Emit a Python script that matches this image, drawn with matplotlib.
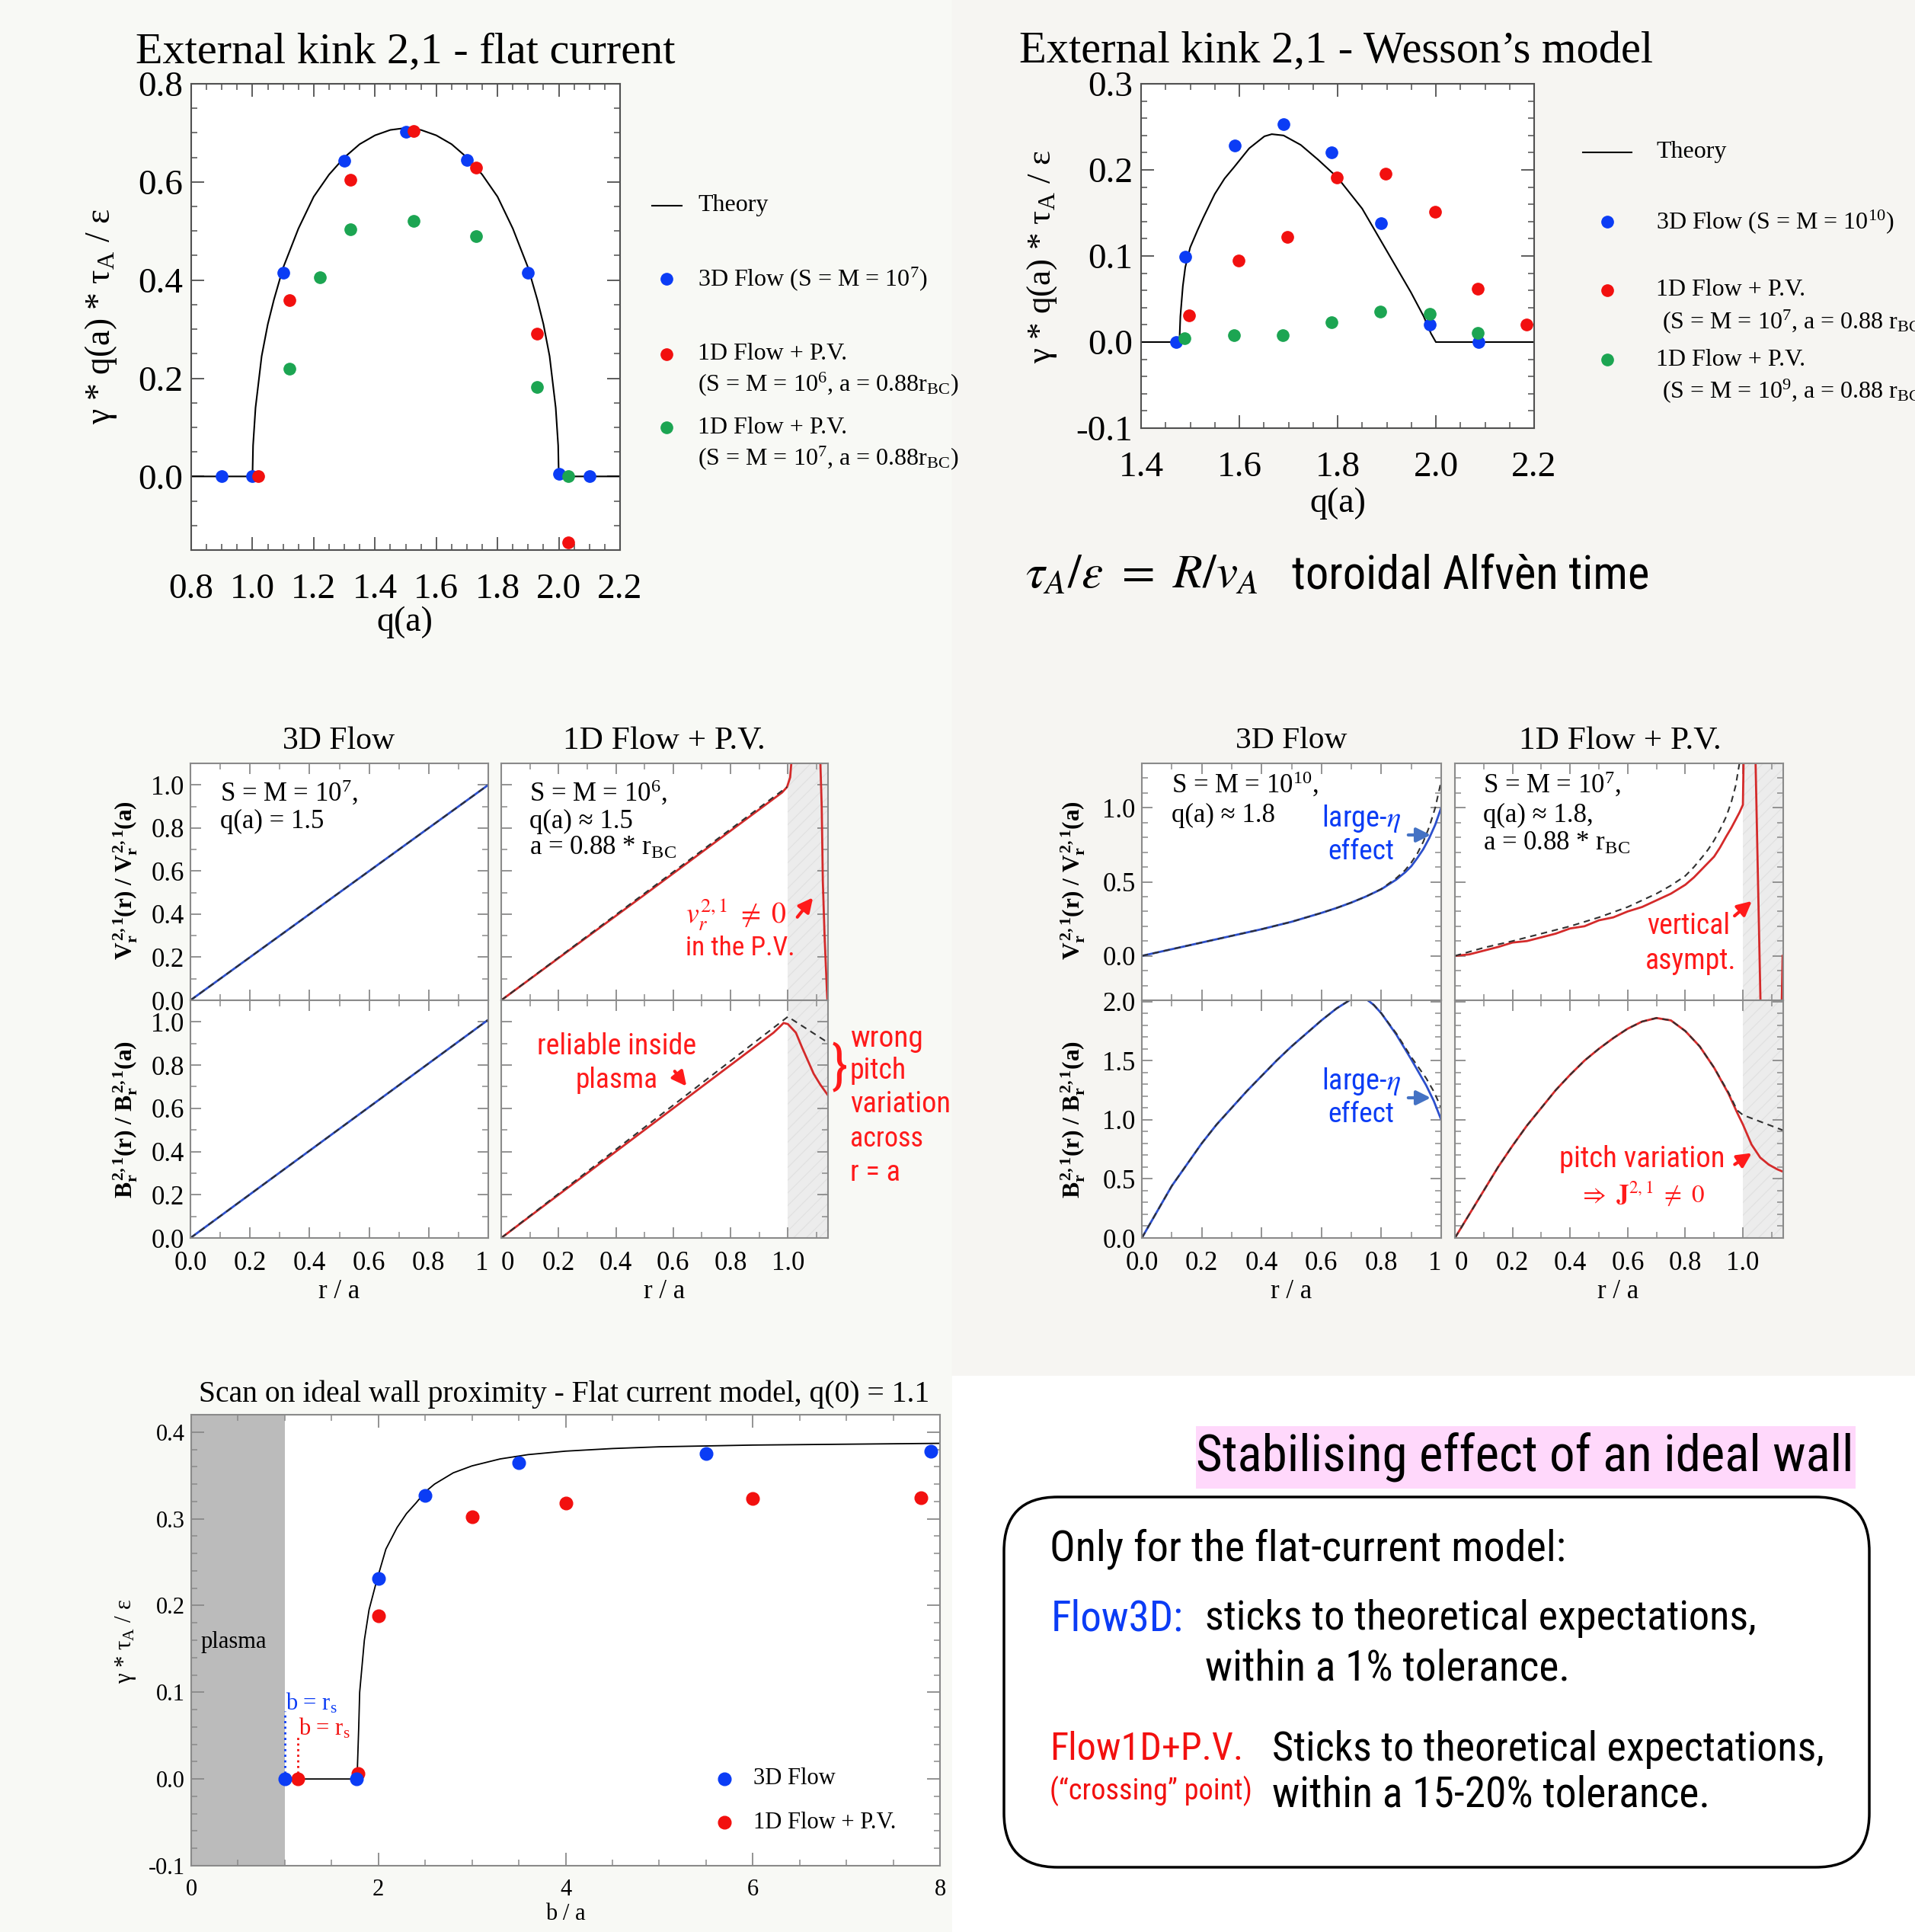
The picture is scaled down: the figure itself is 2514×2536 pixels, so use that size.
import matplotlib
matplotlib.use('Agg')
import matplotlib.pyplot as plt
from matplotlib import font_manager
from matplotlib.lines import Line2D
from matplotlib.patches import Rectangle, FancyBboxPatch, FancyArrowPatch
from matplotlib.ticker import MultipleLocator, FormatStrFormatter

# ---------------- data ----------------
# external kink 2,1 - flat current
q_flat_theory = [0.8, 1.0, 1.0, 1.002, 1.01, 1.03, 1.05, 1.07, 1.1, 1.15, 1.2, 1.25, 1.3, 1.35, 1.4, 1.45, 1.5,
                 1.55, 1.6, 1.65, 1.7, 1.75, 1.8, 1.85, 1.9, 1.93, 1.95, 1.97, 1.99, 1.998, 2.0, 2.2]
g_flat_theory = [0.0, 0.0, 0.0, 0.063, 0.14, 0.245, 0.31, 0.36, 0.425, 0.505, 0.57, 0.615, 0.65, 0.677, 0.695, 0.706, 0.71,
                 0.706, 0.695, 0.677, 0.65, 0.615, 0.57, 0.505, 0.425, 0.36, 0.31, 0.245, 0.14, 0.063, 0.0, 0.0]
q_flat_3d = [0.9, 1.0, 1.1, 1.3, 1.5, 1.7, 1.9, 2.0, 2.1]
g_flat_3d = [0.0, 0.0, 0.415, 0.643, 0.702, 0.644, 0.415, 0.005, 0.0]
q_flat_1d6 = [1.02, 1.12, 1.32, 1.525, 1.73, 1.93, 2.03]
g_flat_1d6 = [0.0, 0.359, 0.605, 0.704, 0.63, 0.291, -0.135]
q_flat_1d7 = [1.12, 1.22, 1.32, 1.525, 1.73, 1.93, 2.03]
g_flat_1d7 = [0.22, 0.406, 0.504, 0.52, 0.49, 0.182, 0.0]

# external kink 2,1 - Wesson's model
q_wes_theory = [1.4, 1.478, 1.48, 1.485, 1.49, 1.50, 1.515, 1.527, 1.55, 1.57, 1.589, 1.62, 1.651, 1.666, 1.69,
                1.725, 1.76, 1.80, 1.85, 1.90, 1.949, 1.975, 1.99, 2.0, 2.2]
g_wes_theory = [0.0, 0.0, 0.03, 0.065, 0.087, 0.11, 0.13, 0.145, 0.172, 0.19, 0.203, 0.225, 0.239, 0.2415, 0.240,
                0.229, 0.212, 0.191, 0.155, 0.106, 0.058, 0.03, 0.01, 0.0, 0.0]
q_wes_3d = [1.471, 1.49, 1.59, 1.69, 1.788, 1.888, 1.988, 2.087]
g_wes_3d = [0.0, 0.099, 0.228, 0.253, 0.220, 0.138, 0.020, 0.0]
q_wes_1d7 = [1.498, 1.599, 1.698, 1.799, 1.898, 1.999, 2.086, 2.185]
g_wes_1d7 = [0.031, 0.095, 0.122, 0.191, 0.196, 0.151, 0.062, 0.020]
q_wes_1d9 = [1.489, 1.589, 1.688, 1.788, 1.887, 1.987, 2.086]
g_wes_1d9 = [0.004, 0.008, 0.008, 0.023, 0.035, 0.033, 0.011]

# eigenfunctions, flat current
r_flat_3d = [0.0, 1.0]
v_flat_3d = [0.0, 1.0]
b_flat_3d = [0.0, 1.01]
r_flat_th = [0.0, 1.0]
v_flat_th = [0.0, 1.0]
b_flat_th = [0.0, 1.01]
r_flat_v1d = [0.0, 0.5, 0.98, 0.997, 1.008, 1.018, 1.11, 1.113, 1.118, 1.122, 1.128, 1.136, 1.138]
v_flat_v1d = [0.0, 0.49, 0.965, 0.99, 1.035, 1.2, 1.2, 1.12, 0.9, 0.55, 0.3, 0.05, 0.0]
r_flat_v1d_th = [0.0, 0.997]
v_flat_v1d_th = [0.0, 0.99]
r_flat_b1d = [0.0, 0.5, 0.95, 0.97, 0.985, 1.0, 1.028, 1.05, 1.07, 1.09, 1.113, 1.14]
b_flat_b1d = [0.0, 0.5, 0.95, 0.975, 0.995, 0.99, 0.95, 0.88, 0.82, 0.76, 0.71, 0.66]
r_flat_b1d_th = [0.0, 1.0, 1.14]
b_flat_b1d_th = [0.0, 1.024, 0.904]

# eigenfunctions, Wesson's model
r_wes_v3d = [0.0, 0.1, 0.2, 0.3, 0.4, 0.5, 0.6, 0.65, 0.7, 0.75, 0.8, 0.85, 0.88, 0.9, 0.92, 0.94, 0.96,
             0.98, 1.0]
v_wes_v3d = [0.0, 0.045, 0.09, 0.135, 0.18, 0.23, 0.29, 0.323, 0.36, 0.402, 0.45, 0.515, 0.565, 0.605, 0.66,
             0.72, 0.795, 0.885, 1.0]
r_wes_v3d_th = [0.0, 0.1, 0.2, 0.3, 0.4, 0.5, 0.6, 0.65, 0.7, 0.75, 0.8, 0.85, 0.88, 0.9, 0.92, 0.94, 0.96,
                0.98, 1.0]
v_wes_v3d_th = [0.0, 0.045, 0.09, 0.135, 0.18, 0.23, 0.29, 0.323, 0.36, 0.402, 0.452, 0.525, 0.58, 0.63, 0.69,
                0.77, 0.87, 1.0, 1.18]
r_wes_v1d = [0.0, 0.05, 0.1, 0.15, 0.2, 0.25, 0.3, 0.35, 0.4, 0.45, 0.5, 0.55, 0.6, 0.65, 0.7, 0.75,
             0.8, 0.83, 0.86, 0.9, 0.92, 0.942, 0.96, 0.975, 0.988, 1.0, 1.003, 1.043, 1.062, 1.134, 1.138]
v_wes_v1d = [0.0, 0.01, 0.035, 0.06, 0.09, 0.10, 0.125, 0.15, 0.185, 0.20, 0.24, 0.26, 0.30, 0.33, 0.375, 0.42,
             0.48, 0.53, 0.59, 0.67, 0.73, 0.806, 0.865, 0.92, 0.968, 1.02, 1.4, 1.4, -0.4, -0.4, 0.0]
r_wes_v1d_th = [0.0, 0.1, 0.2, 0.3, 0.4, 0.5, 0.6, 0.7, 0.75, 0.8, 0.83, 0.86, 0.88, 0.9, 0.92, 0.942, 0.96,
                0.975, 0.988]
v_wes_v1d_th = [0.0, 0.055, 0.1, 0.15, 0.2, 0.26, 0.33, 0.42, 0.475, 0.54, 0.6, 0.67, 0.72, 0.78, 0.85, 0.94,
                1.04, 1.15, 1.3]
r_wes_b3d = [0.0, 0.05, 0.1, 0.15, 0.2, 0.25, 0.3, 0.35, 0.4, 0.45, 0.5, 0.55, 0.6, 0.65, 0.7, 0.725, 0.75,
             0.775, 0.8, 0.85, 0.9, 0.95, 0.975, 1.0]
b_wes_b3d = [0.0, 0.22, 0.44, 0.62, 0.80, 0.96, 1.10, 1.24, 1.37, 1.50, 1.62, 1.73, 1.84, 1.94, 2.02, 2.04, 2.02,
             1.97, 1.90, 1.72, 1.51, 1.29, 1.16, 1.0]
r_wes_b3d_th = [0.0, 0.05, 0.1, 0.15, 0.2, 0.25, 0.3, 0.35, 0.4, 0.45, 0.5, 0.55, 0.6, 0.65, 0.7, 0.725, 0.75,
                0.775, 0.8, 0.85, 0.9, 0.95, 0.975, 1.0]
b_wes_b3d_th = [0.0, 0.22, 0.44, 0.62, 0.80, 0.96, 1.10, 1.24, 1.37, 1.50, 1.62, 1.73, 1.84, 1.94, 2.02, 2.04, 2.02,
                1.97, 1.90, 1.73, 1.53, 1.35, 1.24, 1.10]
r_wes_b1d = [0.0, 0.05, 0.1, 0.15, 0.2, 0.25, 0.3, 0.35, 0.4, 0.45, 0.5, 0.55, 0.6, 0.65, 0.7, 0.75, 0.8, 0.85,
             0.9, 0.95, 0.98, 1.0, 1.03, 1.06, 1.09, 1.12, 1.14]
b_wes_b1d = [0.0, 0.20, 0.40, 0.60, 0.78, 0.95, 1.10, 1.25, 1.38, 1.50, 1.60, 1.69, 1.77, 1.83, 1.86, 1.84, 1.75,
             1.62, 1.44, 1.22, 1.06, 0.96, 0.79, 0.68, 0.62, 0.58, 0.56]
r_wes_b1d_th = [0.0, 0.05, 0.1, 0.15, 0.2, 0.25, 0.3, 0.35, 0.4, 0.45, 0.5, 0.55, 0.6, 0.65, 0.7, 0.75, 0.8, 0.85,
                0.9, 0.95, 0.98, 1.0, 1.14]
b_wes_b1d_th = [0.0, 0.20, 0.40, 0.60, 0.78, 0.95, 1.10, 1.25, 1.38, 1.50, 1.60, 1.69, 1.77, 1.83, 1.86, 1.84, 1.75,
                1.62, 1.44, 1.23, 1.08, 1.04, 0.91]

# ideal wall scan
b_wall_theory = [1.0, 1.772, 1.775, 1.79, 1.80, 1.85, 1.90, 1.98, 2.08, 2.2, 2.3, 2.4, 2.5, 2.6, 2.8, 3.0,
                 3.3, 3.6, 4.0, 4.5, 5.0, 6.0, 7.0, 8.0]
g_wall_theory = [0.0, 0.0, 0.01, 0.06, 0.10, 0.16, 0.195, 0.228, 0.265, 0.29, 0.306, 0.318, 0.331, 0.34, 0.353,
                 0.361, 0.369, 0.374, 0.378, 0.381, 0.383, 0.385, 0.386, 0.387]
b_wall_3d = [1.0, 1.77, 2.0, 2.5, 3.5, 5.5, 7.9]
g_wall_3d = [0.0, 0.0, 0.231, 0.327, 0.365, 0.375, 0.378]
b_wall_1d = [1.14, 1.78, 2.0, 3.0, 4.0, 6.0, 7.8]
g_wall_1d = [0.0, 0.006, 0.188, 0.302, 0.318, 0.3235, 0.324]

# ---------------- style ----------------
BLUE = '#0b3cf5'
RED = '#f2100f'
GREEN = '#1ca552'
LBLUE = '#2c4fcc'
LRED = '#d42a2a'
ARED = '#ff1a1a'


def pick(names):
    for n in names:
        try:
            font_manager.findfont(font_manager.FontProperties(family=n), fallback_to_default=False)
            return n
        except Exception:
            pass
    return 'DejaVu Sans'


SERIF = pick(['Liberation Serif', 'DejaVu Serif'])
SANS = pick(['Liberation Sans Narrow', 'Roboto Condensed', 'Open Sans Condensed', 'Lato', 'Open Sans'])

plt.rcParams['font.family'] = [SERIF, 'DejaVu Serif']
plt.rcParams['mathtext.fontset'] = 'custom'
plt.rcParams['mathtext.rm'] = SERIF
plt.rcParams['mathtext.it'] = SERIF + ':italic'
plt.rcParams['mathtext.bf'] = SERIF + ':bold'
plt.rcParams['axes.unicode_minus'] = False
plt.rcParams['hatch.linewidth'] = 0.8

W, H = 2514, 2536
fig = plt.figure(figsize=(W / 100, H / 100), dpi=100, facecolor='#f8f9f5')
renderer = fig.canvas.get_renderer()


def box(l, t, r, b):
    return [l / W, 1 - b / H, (r - l) / W, (b - t) / H]


def txt(x, y, s, width=None, height=None, **kw):
    kw.setdefault('va', 'center')
    t = fig.text(x / W, 1 - y / H, s, **kw)
    if width or height:
        ext = t.get_window_extent(renderer)
        f = width / ext.width if width else height / ext.height
        t.set_fontsize(t.get_fontsize() * f)
    return t


def key_marker(x, y, color, ms=11):
    fig.add_artist(Line2D([x / W], [1 - y / H], marker='o', ms=ms, color=color, ls='none',
                          transform=fig.transFigure))


def key_line(x0, x1, y):
    fig.add_artist(Line2D([x0 / W, x1 / W], [1 - y / H, 1 - y / H], color='black', lw=1.5,
                          transform=fig.transFigure))


def arrow(x0, y0, x1, y1, color):
    fig.add_artist(FancyArrowPatch((x0 / W, 1 - y0 / H), (x1 / W, 1 - y1 / H), transform=fig.transFigure,
                                   arrowstyle='-|>', mutation_scale=28, color=color, lw=3))


def style(ax, fs, spine='#505050', xpad=8, ypad=8, maj=12, mnr=6):
    ax.tick_params(which='both', direction='in', top=True, right=True, color=spine, labelsize=fs)
    ax.tick_params(which='major', length=maj, width=1.3)
    ax.tick_params(which='minor', length=mnr, width=1.1)
    ax.tick_params(axis='x', which='both', pad=xpad)
    ax.tick_params(axis='y', which='both', pad=ypad)
    for sp in ax.spines.values():
        sp.set_color(spine)
        sp.set_linewidth(1.5)


# background regions of the slide
fig.add_artist(Rectangle((1250 / W, 1 - 1806 / H), (W - 1250) / W, 1806 / H, transform=fig.transFigure,
                         color='#f6f5f2', zorder=-10))
fig.add_artist(Rectangle((1250 / W, 0), (W - 1250) / W, (H - 1806) / H, transform=fig.transFigure,
                         color='white', zorder=-10))

# ---------------- top-left: flat current ----------------
ax = fig.add_axes(box(251, 110, 814, 722))
ax.plot(q_flat_theory, g_flat_theory, color='black', lw=1.5)
ax.plot(q_flat_3d, g_flat_3d, 'o', color=BLUE, ms=11)
ax.plot(q_flat_1d6, g_flat_1d6, 'o', color=RED, ms=11)
ax.plot(q_flat_1d7, g_flat_1d7, 'o', color=GREEN, ms=11)
ax.set_xlim(0.8, 2.2)
ax.set_ylim(-0.15, 0.8)
ax.xaxis.set_major_locator(MultipleLocator(0.2))
ax.xaxis.set_minor_locator(MultipleLocator(0.05))
ax.yaxis.set_major_locator(MultipleLocator(0.2))
ax.yaxis.set_minor_locator(MultipleLocator(0.05))
ax.xaxis.set_major_formatter(FormatStrFormatter('%.1f'))
ax.yaxis.set_major_formatter(FormatStrFormatter('%.1f'))
style(ax, 34, xpad=22, ypad=8)

txt(178, 68, 'External kink 2,1 - flat current', width=709, fontsize=42)
txt(133, 415, 'γ * q(a) * τ$_\\mathrm{A}$ / ε', height=283, fontsize=31, rotation=90, ha='center')
txt(531, 817, 'q(a)', fontsize=33, ha='center')
key_line(856, 895, 270)
txt(916, 270, 'Theory', fontsize=23)
key_marker(875, 366, BLUE)
txt(916, 366, '3D Flow (S = M = 10$^{7}$)', fontsize=23)
key_marker(875, 465, RED)
txt(916, 465, '1D Flow + P.V.', fontsize=23)
txt(916, 504, '(S = M = 10$^{6}$, a = 0.88r$_{\\mathrm{BC}}$)', fontsize=23)
key_marker(875, 561, GREEN)
txt(916, 561, '1D Flow + P.V.', fontsize=23)
txt(916, 601, '(S = M = 10$^{7}$, a = 0.88r$_{\\mathrm{BC}}$)', fontsize=23)

# ---------------- top-right: Wesson's model ----------------
ax = fig.add_axes(box(1498, 110, 2014, 562))
ax.plot(q_wes_theory, g_wes_theory, color='black', lw=1.5)
ax.plot(q_wes_3d, g_wes_3d, 'o', color=BLUE, ms=11)
ax.plot(q_wes_1d7, g_wes_1d7, 'o', color=RED, ms=11)
ax.plot(q_wes_1d9, g_wes_1d9, 'o', color=GREEN, ms=11)
ax.set_xlim(1.4, 2.2)
ax.set_ylim(-0.1, 0.3)
ax.xaxis.set_major_locator(MultipleLocator(0.2))
ax.xaxis.set_minor_locator(MultipleLocator(0.05))
ax.yaxis.set_major_locator(MultipleLocator(0.1))
ax.yaxis.set_minor_locator(MultipleLocator(0.02))
ax.xaxis.set_major_formatter(FormatStrFormatter('%.1f'))
ax.yaxis.set_major_formatter(FormatStrFormatter('%.1f'))
style(ax, 34, xpad=22, ypad=8)

txt(1338, 68, 'External kink 2,1 - Wesson’s model', width=834, fontsize=42)
txt(1368, 337, 'γ * q(a) * τ$_\\mathrm{A}$ / ε', height=280, fontsize=31, rotation=90, ha='center')
txt(1756, 661, 'q(a)', fontsize=33, ha='center')
key_line(2078, 2142, 200)
txt(2174, 200, 'Theory', fontsize=23)
key_marker(2110, 291, BLUE)
txt(2174, 291, '3D Flow (S = M = 10$^{10}$)', fontsize=23)
key_marker(2110, 381, RED)
txt(2174, 381, '1D Flow + P.V.', fontsize=23)
txt(2182, 422, '(S = M = 10$^{7}$, a = 0.88 r$_{\\mathrm{BC}}$)', fontsize=23)
key_marker(2110, 472, GREEN)
txt(2174, 472, '1D Flow + P.V.', fontsize=23)
txt(2182, 513, '(S = M = 10$^{9}$, a = 0.88 r$_{\\mathrm{BC}}$)', fontsize=23)

txt(1346, 757, r'$\tau_A/\varepsilon\ =\ R/v_A$', width=306, fontsize=36, math_fontfamily='stix')
txt(1696, 757, 'toroidal Alfvèn time', width=470, fontsize=36, family=SANS)


# ---------------- eigenfunction panels ----------------
def panel(l, t, r, b, xmax, ylim, yticks, ylabels, xlabels):
    ax = fig.add_axes(box(l, t, r, b))
    ax.set_facecolor('white')
    ax.set_xlim(0, xmax)
    ax.set_ylim(*ylim)
    if xmax > 1.0:
        ax.axvspan(1.0, xmax, facecolor='#ececec', edgecolor='#e0e0e0', hatch='//', lw=0, zorder=0)
    ax.set_xticks([0, 0.2, 0.4, 0.6, 0.8, 1.0])
    ax.set_xticklabels(xlabels if xlabels else [''] * 6)
    ax.set_yticks(yticks)
    ax.set_yticklabels(ylabels if ylabels else [''] * len(yticks))
    ax.xaxis.set_minor_locator(MultipleLocator(0.1))
    ax.yaxis.set_minor_locator(MultipleLocator(0.1))
    style(ax, 25, spine='#8a8a8a', xpad=12, ypad=6, maj=10, mnr=6)
    if xlabels:
        labs = ax.get_xticklabels()
        if xmax > 1.0:
            labs[0].set_horizontalalignment('left')
        else:
            labs[-1].set_horizontalalignment('right')
    return ax


XL = ['0.0', '0.2', '0.4', '0.6', '0.8', '1']
XR = ['0', '0.2', '0.4', '0.6', '0.8', '1.0']
Y1 = [0.0, 0.2, 0.4, 0.6, 0.8, 1.0]
Y1L = ['0.0', '0.2', '0.4', '0.6', '0.8', '1.0']
DASH = dict(color='#303030', lw=1.5, ls=(0, (4, 3)))

# flat current
ax = panel(250, 1002, 641, 1313, 1.0, (0, 1.1), Y1, Y1L, None)
ax.plot(r_flat_3d, v_flat_3d, color=LBLUE, lw=2)
ax.plot(r_flat_th, v_flat_th, **DASH)
ax = panel(658, 1002, 1087, 1313, 1.14, (0, 1.1), Y1, None, None)
ax.plot(r_flat_v1d, v_flat_v1d, color=LRED, lw=2)
ax.plot(r_flat_v1d_th, v_flat_v1d_th, **DASH)
ax = panel(250, 1313, 641, 1625, 1.0, (0, 1.1), Y1, Y1L, XL)
ax.plot(r_flat_3d, b_flat_3d, color=LBLUE, lw=2)
ax.plot(r_flat_th, b_flat_th, **DASH)
ax = panel(658, 1313, 1087, 1625, 1.14, (0, 1.1), Y1, None, XR)
ax.plot(r_flat_b1d, b_flat_b1d, color=LRED, lw=2)
ax.plot(r_flat_b1d_th, b_flat_b1d_th, **DASH)

# Wesson's model
ax = panel(1499, 1002, 1892, 1313, 1.0, (-0.3, 1.3), [0.0, 0.5, 1.0], ['0.0', '0.5', '1.0'], None)
ax.plot(r_wes_v3d, v_wes_v3d, color=LBLUE, lw=2)
ax.plot(r_wes_v3d_th, v_wes_v3d_th, **DASH)
ax = panel(1910, 1002, 2341, 1313, 1.14, (-0.3, 1.3), [0.0, 0.5, 1.0], None, None)
ax.plot(r_wes_v1d, v_wes_v1d, color=LRED, lw=2)
ax.plot(r_wes_v1d_th, v_wes_v1d_th, **DASH)
ax = panel(1499, 1313, 1892, 1625, 1.0, (0, 2.01), [0.0, 0.5, 1.0, 1.5, 2.0],
           ['0.0', '0.5', '1.0', '1.5', '2.0'], XL)
ax.plot(r_wes_b3d, b_wes_b3d, color=LBLUE, lw=2)
ax.plot(r_wes_b3d_th, b_wes_b3d_th, **DASH)
ax = panel(1910, 1313, 2341, 1625, 1.14, (0, 2.01), [0.0, 0.5, 1.0, 1.5, 2.0], None, XR)
ax.plot(r_wes_b1d, b_wes_b1d, color=LRED, lw=2)
ax.plot(r_wes_b1d_th, b_wes_b1d_th, **DASH)

# panel headings and labels
for cx, s, w in [(445, '3D Flow', 147), (872, '1D Flow + P.V.', 265),
                 (1695, '3D Flow', 146), (2127, '1D Flow + P.V.', 265)]:
    txt(cx, 973, s, width=w, fontsize=30, ha='center')
for cx in [445, 872, 1695, 2124]:
    txt(cx, 1695, 'r / a', fontsize=25, ha='center')
VLAB = r'$\mathbf{V_r^{\,2,1}(r)\ /\ V_r^{\,2,1}(a)}$'
BLAB = r'$\mathbf{B_r^{\,2,1}(r)\ /\ B_r^{\,2,1}(a)}$'
for cx in [165, 1409]:
    txt(cx, 1156, VLAB, height=209, fontsize=24, rotation=90, ha='center')
    txt(cx, 1469, BLAB, height=207, fontsize=24, rotation=90, ha='center')

txt(289, 1041, 'S = M = 10$^{7}$,', fontsize=25)
txt(289, 1078, 'q(a) = 1.5', fontsize=25)
txt(695, 1041, 'S = M = 10$^{6}$,', fontsize=25)
txt(695, 1078, 'q(a) ≈ 1.5', fontsize=25)
txt(695, 1113, 'a = 0.88 * r$_{\\mathrm{BC}}$', fontsize=25)
txt(1538, 1030, 'S = M = 10$^{10}$,', fontsize=25)
txt(1538, 1070, 'q(a) ≈ 1.8', fontsize=25)
txt(1947, 1030, 'S = M = 10$^{7}$,', fontsize=25)
txt(1947, 1070, 'q(a) ≈ 1.8,', fontsize=25)
txt(1947, 1107, 'a = 0.88 * r$_{\\mathrm{BC}}$', fontsize=25)

# annotations
txt(900, 1201, r'$v_r^{2,1}\ \neq\ 0$', width=133, fontsize=26, color=ARED, math_fontfamily='stix')
txt(900, 1245, 'in the P.V.', width=143, fontsize=26, color=ARED, family=SANS)
arrow(1045, 1206, 1069, 1176, ARED)
txt(810, 1373, 'reliable inside', width=209, fontsize=26, color=ARED, family=SANS, ha='center')
txt(810, 1418, 'plasma', width=108, fontsize=26, color=ARED, family=SANS, ha='center')
arrow(884, 1404, 903, 1428, ARED)
txt(1092, 1402, '}', fontsize=50, color=ARED, family=SANS, ha='left')
for y, s, w in [(1363, 'wrong', 96), (1406, 'pitch', 74), (1450, 'variation', 132),
                (1495, 'across', 96), (1539, 'r = a', 66)]:
    txt(1116, y, s, width=w, fontsize=26, color=ARED, family=SANS)

for y0, ya in [(1075, 1096), (1420, 1441)]:
    txt(1787, y0, 'large-$\\eta$', width=104, fontsize=26, color=BLUE, family=SANS, ha='center',
        math_fontfamily='stix')
    txt(1787, y0 + 43, 'effect', width=87, fontsize=26, color=BLUE, family=SANS, ha='center')
    arrow(1846, ya, 1881, ya, '#4472c4')
txt(2217, 1216, 'vertical', width=109, fontsize=26, color=ARED, family=SANS, ha='center')
txt(2220, 1261, 'asympt.', width=119, fontsize=26, color=ARED, family=SANS, ha='center')
arrow(2275, 1204, 2302, 1181, ARED)
txt(2156, 1522, 'pitch variation', width=218, fontsize=26, color=ARED, family=SANS, ha='center')
arrow(2275, 1530, 2302, 1512, ARED)
txt(2156, 1567, r'$\Rightarrow\ \mathbf{J}^{2,1}\ \neq\ 0$', width=165, fontsize=26, color=ARED,
    ha='center', math_fontfamily='stix')

# ---------------- bottom-left: ideal wall scan ----------------
ax = fig.add_axes(box(251, 1857, 1234, 2449))
ax.set_facecolor('white')
ax.axvspan(0, 1.0, color='#bbbbbb', lw=0, zorder=0)
ax.plot(b_wall_theory, g_wall_theory, color='black', lw=1.3)
ax.vlines(b_wall_3d[0], 0, 0.078, colors=BLUE, linestyles=':', lw=2)
ax.vlines(b_wall_1d[0], 0, 0.050, colors=RED, linestyles=':', lw=2)
ax.plot(b_wall_1d, g_wall_1d, 'o', color=RED, ms=12, zorder=3)
ax.plot(b_wall_3d, g_wall_3d, 'o', color=BLUE, ms=12, zorder=4)
ax.text(1.01, 0.080, 'b = r$_\\mathrm{s}$', color=BLUE, fontsize=22, va='baseline')
ax.text(1.147, 0.051, 'b = r$_\\mathrm{s}$', color=RED, fontsize=22, va='baseline')
ax.text(0.1, 0.158, 'plasma', fontsize=22, va='center')
ax.set_xlim(0, 8)
ax.set_ylim(-0.1, 0.42)
ax.xaxis.set_major_locator(MultipleLocator(2))
ax.xaxis.set_minor_locator(MultipleLocator(0.5))
ax.yaxis.set_major_locator(MultipleLocator(0.1))
ax.yaxis.set_minor_locator(MultipleLocator(0.02))
ax.yaxis.set_major_formatter(FormatStrFormatter('%.1f'))
style(ax, 22, spine='#8a8a8a', xpad=12, ypad=6, maj=12, mnr=6)

txt(261, 1830, 'Scan on ideal wall proximity - Flat current model, q(0) = 1.1', width=961, fontsize=27)
txt(165, 2154, 'γ * τ$_\\mathrm{A}$ / ε', height=111, fontsize=22, rotation=90, ha='center')
txt(742, 2513, 'b / a', fontsize=22, ha='center')
key_marker(951, 2335, BLUE, ms=12)
txt(989, 2335, '3D Flow', fontsize=22)
key_marker(951, 2392, RED, ms=12)
txt(989, 2392, '1D Flow + P.V.', fontsize=22)

# ---------------- bottom-right: conclusions ----------------
fig.add_artist(Rectangle((1570 / W, 1 - 1954 / H), 866 / W, 82 / H, transform=fig.transFigure,
                         color='#ffd8fb', lw=0))
txt(1570, 1913, 'Stabilising effect of an ideal wall', width=864, fontsize=44, family=SANS)
fig.add_artist(FancyBboxPatch((1318 / W, 1 - 2451 / H), 1136 / W, 486 / H, transform=fig.transFigure,
                              boxstyle='round,pad=0,rounding_size=0.028', fc='none', ec='black', lw=2.5))
txt(1378, 2033, 'Only for the flat-current model:', width=678, fontsize=36, family=SANS)
txt(1380, 2125, 'Flow3D:', width=174, fontsize=36, family=SANS, color=BLUE)
txt(1582, 2125, 'sticks to theoretical expectations,', width=722, fontsize=36, family=SANS)
txt(1582, 2190, 'within a 1% tolerance.', width=478, fontsize=36, family=SANS)
txt(1378, 2296, 'Flow1D+P.V.', width=254, fontsize=36, family=SANS, color=RED)
txt(1670, 2296, 'Sticks to theoretical expectations,', width=725, fontsize=36, family=SANS)
txt(1378, 2351, '(“crossing” point)', width=266, fontsize=22, family=SANS, color=RED)
txt(1670, 2356, 'within a 15-20% tolerance.', width=574, fontsize=36, family=SANS)

fig.savefig('out.png', dpi=100, facecolor=fig.get_facecolor())
